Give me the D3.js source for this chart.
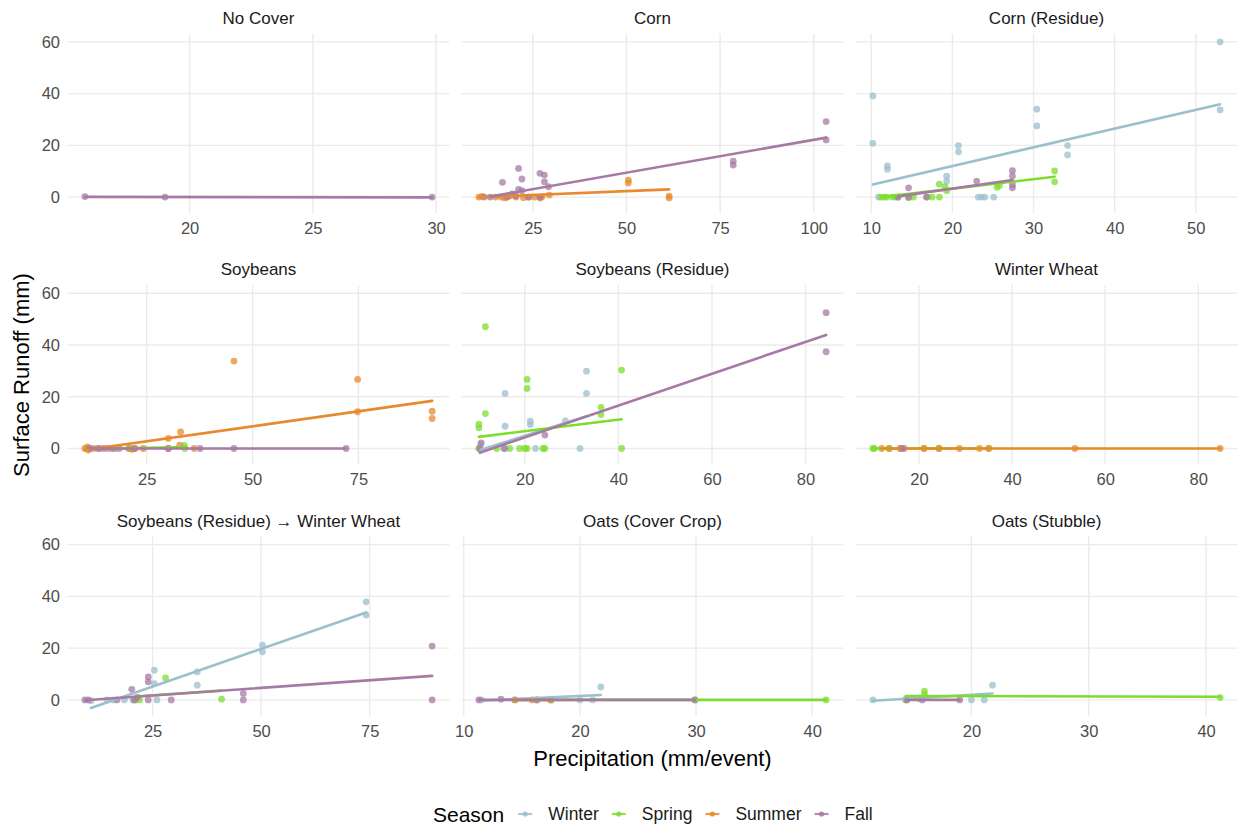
<!DOCTYPE html>
<html><head><meta charset="utf-8">
<script src="https://cdn.jsdelivr.net/npm/d3@7"></script>
<style>body{margin:0;background:#fff;} svg{display:block;font-family:"Liberation Sans",Arial,Helvetica,sans-serif;}</style>
</head><body><svg id="chart" width="1238" height="827"></svg>
<script>
const seasons = ["Winter","Spring","Summer","Fall"];
const seasonColors = ["#9BBFCC","#7CDD2C","#E8892C","#A67AA4"];
const panelTitles = ["No Cover","Corn","Corn (Residue)","Soybeans","Soybeans (Residue)","Winter Wheat","Soybeans (Residue) \u2192 Winter Wheat","Oats (Cover Crop)","Oats (Stubble)"];
const xTicks = [[20,25,30],[25,50,75,100],[10,20,30,40,50],[25,50,75],[20,40,60,80],[20,40,60,80],[25,50,75],[10,20,30,40],[20,30,40]];
const yTicks = [0,20,40,60];

// points: [season, precipitation, runoff]
const ptsNoCover = [["Fall",15.75,0.2],["Fall",19.0,0],["Fall",29.84,0]];
const ptsCorn = [
 ["Summer",50.5,6.6],["Summer",50.5,5.5],["Summer",61.4,0.4],["Summer",61.4,-0.3],["Summer",10.6,0],["Summer",11.5,0.3],["Summer",15.0,0],["Summer",16.5,0],["Summer",17.5,-0.3],["Summer",18.3,0.2],["Summer",19.0,0.5],["Summer",20.5,0],["Summer",22.5,-0.2],["Summer",24.0,0],["Summer",25.5,0],["Summer",27.0,-0.3],["Summer",27.5,0.2],["Summer",29.4,0.8],
 ["Fall",103.3,29.2],["Fall",103.3,22.1],["Fall",78.5,13.9],["Fall",78.5,12.4],["Fall",21.2,11.1],["Fall",16.9,5.7],["Fall",22.1,7.0],["Fall",26.9,9.2],["Fall",28.1,8.5],["Fall",28.1,5.9],["Fall",29.2,4.0],["Fall",21.2,3.0],["Fall",22.1,2.5],["Fall",12.0,0],["Fall",13.6,0],["Fall",18.1,0],["Fall",19.5,1.2],["Fall",20.5,0.5],["Fall",23.8,0],["Fall",26.9,0]];
const ptsCornResidue = [
 ["Winter",53.0,60.0],["Winter",53.0,33.7],["Winter",10.2,39.1],["Winter",10.2,20.8],["Winter",12.0,12.1],["Winter",12.0,10.8],["Winter",30.4,34.0],["Winter",30.4,27.5],["Winter",20.75,19.9],["Winter",20.75,17.5],["Winter",34.2,19.9],["Winter",34.2,16.3],["Winter",19.3,8.1],["Winter",19.3,6.2],["Winter",23.2,0],["Winter",23.6,0],["Winter",24.0,0],["Winter",25.1,0],["Winter",10.9,0],
 ["Spring",11.2,0],["Spring",11.6,0],["Spring",11.9,0],["Spring",12.6,0],["Spring",13.0,0],["Spring",13.3,0],["Spring",14.6,-0.2],["Spring",15.2,0],["Spring",16.9,0],["Spring",17.5,0],["Spring",18.4,0],["Spring",18.4,5.0],["Spring",19.1,4.0],["Spring",19.3,2.5],["Spring",25.5,3.8],["Spring",25.8,4.5],["Spring",32.6,10.1],["Spring",32.6,5.9],
 ["Fall",14.6,3.6],["Fall",14.6,0],["Fall",13.3,0],["Fall",16.8,0],["Fall",23.0,6.2],["Fall",27.4,10.2],["Fall",27.4,8.1],["Fall",27.4,4.9],["Fall",27.4,3.6]];
const ptsSoybeans = [
 ["Spring",33.9,1.2],["Spring",34.0,0],["Spring",17.6,0],["Spring",21.0,0],
 ["Summer",45.6,33.8],["Summer",74.8,26.7],["Summer",74.8,14.2],["Summer",92.4,14.4],["Summer",92.4,11.6],["Summer",33.0,6.4],["Summer",30.1,3.9],["Summer",32.8,1.3],["Summer",10.4,0],["Summer",11.2,-0.6],["Summer",11.0,0.6],["Summer",12.5,0],["Summer",14.0,0],["Summer",16.0,0],["Summer",20.7,0],["Summer",21.5,-0.3],["Summer",22.3,0],["Summer",24.2,0],["Summer",30.1,0],["Summer",36.2,0],
 ["Fall",30.1,0],["Fall",37.6,0],["Fall",45.6,0],["Fall",72.1,0],["Fall",11.6,0],["Fall",13.5,0],["Fall",15.0,0],["Fall",17.0,0],["Fall",18.5,0],["Fall",22.0,0]];
const ptsSoyResidue = [
 ["Winter",33.2,29.9],["Winter",33.2,21.3],["Winter",15.8,21.3],["Winter",15.8,8.6],["Winter",21.2,10.6],["Winter",21.2,9.3],["Winter",28.7,10.7],["Winter",31.8,0],["Winter",22.3,0],["Winter",10.6,1.5],["Winter",15.5,0],
 ["Spring",11.6,47.1],["Spring",20.5,26.7],["Spring",20.5,23.2],["Spring",40.7,30.3],["Spring",11.6,13.5],["Spring",10.2,9.4],["Spring",10.2,8.0],["Spring",36.3,15.9],["Spring",36.3,13.1],["Spring",40.7,0],["Spring",10.2,0],["Spring",14.0,0],["Spring",16.8,0],["Spring",18.9,0],["Spring",20.0,0],["Spring",20.5,0],["Spring",23.9,0],["Spring",24.3,0],
 ["Fall",84.4,52.5],["Fall",84.4,37.4],["Fall",24.3,5.2],["Fall",10.7,2.2],["Fall",15.7,0],["Fall",10.4,0]];
const ptsWinterWheat = [
 ["Spring",10.1,0],["Spring",10.4,0],["Spring",13.6,0],["Spring",21.1,0],["Spring",24.3,0],["Spring",35.0,0],
 ["Summer",12.0,0],["Summer",13.6,0],["Summer",15.9,0],["Summer",21.1,0],["Summer",24.3,0],["Summer",28.7,0],["Summer",33.0,0],["Summer",35.0,0],["Summer",53.5,0],["Summer",84.7,0],
 ["Fall",16.3,0],["Fall",16.8,0]];
const ptsSoyResWW = [
 ["Winter",74.2,37.9],["Winter",74.2,32.8],["Winter",50.3,21.2],["Winter",50.3,18.6],["Winter",35.3,10.8],["Winter",35.3,5.7],["Winter",25.4,11.5],["Winter",25.4,6.3],["Winter",14.5,0],["Winter",16.0,0],["Winter",18.5,0],["Winter",20.5,0],["Winter",26.0,0],["Winter",10.8,-0.3],
 ["Spring",28.0,8.5],["Spring",40.9,0.3],["Spring",21.1,0],["Spring",22.0,0],
 ["Fall",89.4,20.8],["Fall",89.4,0],["Fall",45.9,2.5],["Fall",45.9,0],["Fall",24.0,8.9],["Fall",24.0,7.0],["Fall",20.2,4.1],["Fall",29.3,0],["Fall",9.4,0],["Fall",10.2,0],["Fall",16.8,0],["Fall",24.0,0],["Fall",20.8,0],["Fall",21.5,1.0]];
const ptsOatsCover = [
 ["Winter",21.8,5.0],["Winter",20.0,0],["Winter",21.1,0],["Winter",11.5,0],["Winter",17.5,0],
 ["Spring",14.4,0],["Spring",16.3,0],["Spring",17.5,0],["Spring",29.9,0],["Spring",41.2,0],
 ["Summer",14.4,0],["Summer",15.9,0],["Summer",17.5,0],
 ["Fall",11.3,0],["Fall",13.2,0.3],["Fall",16.3,0],["Fall",29.9,0]];
const ptsOatsStubble = [
 ["Winter",11.6,0],["Winter",14.4,0.2],["Winter",20.0,0],["Winter",21.1,0],["Winter",21.8,5.7],
 ["Spring",16.0,3.4],["Spring",16.0,2.0],["Spring",14.4,0],["Spring",15.5,0.5],["Spring",41.2,0.9],
 ["Fall",14.5,0],["Fall",15.8,0],["Fall",19.0,0]];
const panelPoints = [ptsNoCover,ptsCorn,ptsCornResidue,ptsSoybeans,ptsSoyResidue,ptsWinterWheat,ptsSoyResWW,ptsOatsCover,ptsOatsStubble];

// fitted linear trends: [panel, season, x0, y0, x1, y1]
const fitLines = [
 [0,"Fall",15.75,0.1,29.84,-0.1],
 [1,"Summer",10.6,0.0,61.4,3.0],[1,"Fall",13.6,0.2,103.3,23.0],
 [2,"Winter",10.2,4.9,53.0,35.9],[2,"Spring",11.2,0.0,32.6,7.9],[2,"Fall",13.3,0.3,27.4,6.6],
 [3,"Spring",17.6,0.0,34.0,0.6],[3,"Summer",10.4,-0.6,92.4,18.4],[3,"Fall",11.6,0.0,72.1,0.0],
 [4,"Winter",10.6,-0.5,33.2,12.5],[4,"Spring",10.2,4.5,40.7,11.3],[4,"Fall",10.4,-1.6,84.4,43.9],
 [5,"Spring",10.1,0,35.0,0],[5,"Summer",12.0,0,84.7,0],[5,"Fall",16.3,0,16.8,0],
 [6,"Winter",10.8,-3.1,74.2,33.8],[6,"Spring",21.1,1.3,40.9,3.6],[6,"Fall",9.4,-0.1,89.4,9.3],
 [7,"Winter",11.5,-0.3,21.8,1.9],[7,"Spring",14.4,0,41.2,0],[7,"Summer",14.4,0,17.5,0],[7,"Fall",11.3,0,29.9,0],
 [8,"Winter",11.6,-0.3,21.8,2.5],[8,"Spring",14.4,1.5,41.2,1.2],[8,"Fall",14.4,0,19.0,0]
];

const color = d3.scaleOrdinal().domain(seasons).range(seasonColors);
const svg = d3.select("#chart");
const colX = [67.5, 461.5, 855.5], panelW = 382;
const rowY = [33.7, 285.1, 536.5], panelH = 179.6;

function expand(ext){const r=ext[1]-ext[0];return [ext[0]-0.05*r, ext[1]+0.05*r];}
const allY = [];
panelPoints.forEach(p=>p.forEach(d=>allY.push(d[2])));
fitLines.forEach(f=>{allY.push(f[3]);allY.push(f[5]);});
const yDom = expand(d3.extent(allY));

const gridCol = "#EBEBEB";
panelTitles.forEach((title, i) => {
  const col = i % 3, row = Math.floor(i / 3);
  const x0 = colX[col], y0 = rowY[row];
  const xs = [];
  panelPoints[i].forEach(d=>xs.push(d[1]));
  fitLines.filter(f=>f[0]===i).forEach(f=>{xs.push(f[2]);xs.push(f[4]);});
  const x = d3.scaleLinear().domain(expand(d3.extent(xs))).range([x0, x0+panelW]);
  const y = d3.scaleLinear().domain(yDom).range([y0+panelH, y0]);
  const g = svg.append("g");
  g.selectAll(".gy").data(yTicks).join("line")
    .attr("x1", x0).attr("x2", x0+panelW).attr("y1", d=>y(d)).attr("y2", d=>y(d))
    .attr("stroke", gridCol).attr("stroke-width", 1.4);
  g.selectAll(".gx").data(xTicks[i]).join("line")
    .attr("x1", d=>x(d)).attr("x2", d=>x(d)).attr("y1", y0).attr("y2", y0+panelH)
    .attr("stroke", gridCol).attr("stroke-width", 1.4);
  g.append("text").attr("x", x0+panelW/2).attr("y", y0-15.5)
    .attr("text-anchor","middle").attr("dominant-baseline","central")
    .attr("font-size", 17).attr("fill", "#1A1A1A").text(title);
  const xAxis = d3.axisBottom(x).tickValues(xTicks[i]).tickSize(0).tickPadding(0).tickFormat(d3.format("d"));
  const ax = g.append("g").attr("transform", `translate(0,${y0+panelH+15})`).call(xAxis);
  ax.select(".domain").remove();
  ax.selectAll("text").attr("font-size", 16.5).attr("fill", "#4D4D4D").attr("font-family", null).attr("dy","0.35em").attr("y",0);
  if (col === 0) {
    const yAxis = d3.axisLeft(y).tickValues(yTicks).tickSize(0).tickPadding(0);
    const ay = g.append("g").attr("transform", `translate(60,0)`).call(yAxis);
    ay.select(".domain").remove();
    ay.selectAll("text").attr("font-size", 16.5).attr("fill", "#4D4D4D").attr("font-family", null).attr("x",0);
  }
  g.selectAll("circle").data(panelPoints[i]).join("circle")
    .attr("cx", d=>x(d[1])).attr("cy", d=>y(d[2])).attr("r", 3.4)
    .attr("fill", d=>color(d[0])).attr("fill-opacity", 0.75);
  const fits = fitLines.filter(f=>f[0]===i).sort((a,b)=>seasons.indexOf(a[1])-seasons.indexOf(b[1]));
  g.selectAll(".fit").data(fits).join("line")
    .attr("x1", d=>x(d[2])).attr("y1", d=>y(d[3])).attr("x2", d=>x(d[4])).attr("y2", d=>y(d[5]))
    .attr("stroke", d=>color(d[1])).attr("stroke-width", 2.6).attr("stroke-linecap","round");
});

svg.append("text").attr("x", 652.5).attr("y", 758).attr("text-anchor","middle").attr("dominant-baseline","central")
  .attr("font-size", 22).attr("fill","#000").text("Precipitation (mm/event)");
svg.append("text").attr("transform","translate(21,375) rotate(-90)").attr("text-anchor","middle").attr("dominant-baseline","central")
  .attr("font-size", 22).attr("fill","#000").text("Surface Runoff (mm)");

// legend
const lg = svg.append("g");
const lt = lg.append("text").attr("x", 433).attr("y", 814).attr("dominant-baseline","central")
  .attr("font-size", 21).attr("fill","#000").text("Season");
let cx = 433 + lt.node().getComputedTextLength() + 21;
seasons.forEach(s => {
  lg.append("line").attr("x1", cx-7).attr("x2", cx+7).attr("y1", 814).attr("y2", 814)
    .attr("stroke", color(s)).attr("stroke-width", 2.2).attr("stroke-opacity", 0.85);
  lg.append("circle").attr("cx", cx).attr("cy", 814).attr("r", 2.6).attr("fill", color(s)).attr("fill-opacity", 0.85);
  const t = lg.append("text").attr("x", cx+23).attr("y", 814).attr("dominant-baseline","central")
    .attr("font-size", 17.5).attr("fill","#1A1A1A").text(s);
  cx = cx + 23 + t.node().getComputedTextLength() + 20;
});
</script></body></html>
